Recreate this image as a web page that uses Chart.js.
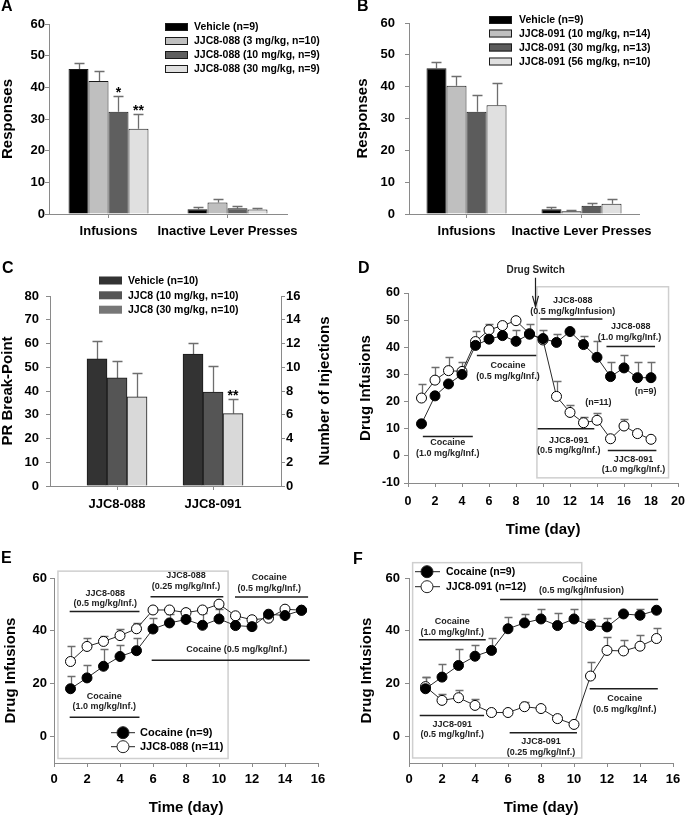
<!DOCTYPE html>
<html>
<head>
<meta charset="utf-8">
<title>JJC8-088 / JJC8-091 self-administration</title>
<script src="https://cdn.jsdelivr.net/npm/chart.js@4.4.1/dist/chart.umd.min.js"></script>
<style>
  html, body { margin: 0; padding: 0; background: #fff; }
  body { position: relative; width: 685px; height: 818px; overflow: hidden; font-family: "Liberation Sans", Arial, sans-serif; }
  .panel { position: absolute; }
  .letter { position: absolute; font-weight: bold; font-size: 16px; line-height: 16px; color: #000; }
</style>
</head>
<body>
<canvas class="panel" id="chartA" width="340" height="262" style="left:0;top:0"></canvas>
<canvas class="panel" id="chartB" width="345" height="262" style="left:340px;top:0"></canvas>
<canvas class="panel" id="chartC" width="340" height="280" style="left:0;top:265px"></canvas>
<canvas class="panel" id="chartD" width="345" height="280" style="left:340px;top:265px"></canvas>
<canvas class="panel" id="chartE" width="340" height="268" style="left:0;top:550px"></canvas>
<canvas class="panel" id="chartF" width="345" height="268" style="left:340px;top:550px"></canvas>
<div class="letter" style="left:1px;top:-2px">A</div>
<div class="letter" style="left:357px;top:-2px">B</div>
<div class="letter" style="left:2px;top:260px">C</div>
<div class="letter" style="left:358px;top:260px">D</div>
<div class="letter" style="left:1px;top:550px">E</div>
<div class="letter" style="left:353px;top:551px">F</div>
<script>
// ---------- data: panel A (JJC8-088 pretreatment, FR2) ----------
var catsA = ["Infusions", "Inactive Lever Presses"];
var vehA = [45.8, 1.5], vehAErr = [2.0, 0.8];
var a088dose3 = [42.0, 3.6], a088dose3Err = [3.1, 1.0];
var a088dose10 = [32.3, 1.8], a088dose10Err = [4.9, 0.8];
var a088dose30 = [26.9, 1.4], a088dose30Err = [4.8, 0.6];
var sigA10 = ["*", ""], sigA30 = ["**", ""];

// ---------- data: panel B (JJC8-091 pretreatment, FR2) ----------
var catsB = ["Infusions", "Inactive Lever Presses"];
var vehB = [45.8, 1.5], vehBErr = [2.1, 0.7];
var b091dose10 = [40.3, 0.9], b091dose10Err = [3.2, 0.5];
var b091dose30 = [32.1, 2.6], b091dose30Err = [5.3, 0.8];
var b091dose56 = [34.2, 3.2], b091dose56Err = [6.8, 1.4];

// ---------- data: panel C (PR break-point) ----------
var catsC = ["JJC8-088", "JJC8-091"];
var catPosC = [0, 1];
var vehC = [53.5, 55.5], vehCErr = [7.5, 4.7];
var c8dose10 = [45.5, 39.5], c8dose10Err = [7.0, 11.0];
var c8dose30 = [37.5, 30.5], c8dose30Err = [10.0, 6.0];
var sigC30 = ["", "**"];

// ---------- data: panel D (drug switch) ----------
var daysD = [1, 2, 3, 4, 5, 6, 7, 8, 9, 10, 11, 12, 13, 14, 15, 16, 17, 18];
var d088 = [11.8, 22.1, 26.5, 30.0, 40.7, 43.0, 44.3, 42.2, 44.8, 43.2, 41.8, 45.8, 41.0, 36.3, 29.2, 32.4, 28.8, 28.8];
var d088Err = [null, null, null, null, null, null, null, 4.3, null, null, 3.1, null, 3.1, 6.1, 5.5, 4.9, 5.6, 5.9];
var d091 = [21.3, 27.9, 31.4, 31.1, 42.1, 46.4, 48.0, 49.8, 45.0, 42.7, 21.9, 16.0, 12.2, 13.1, 6.3, 11.0, 8.2, 6.1];
var d091Err = [5.0, 4.8, 5.0, 3.5, 4.0, 2.0, null, null, 3.5, 3.8, 5.5, 2.8, 2.1, 2.8, null, 2.5, null, null];

// ---------- data: panel E (cocaine vs JJC8-088 substitution) ----------
var daysE = [1, 2, 3, 4, 5, 6, 7, 8, 9, 10, 11, 12, 13, 14, 15];
var cocE = [18.1, 22.2, 26.6, 30.3, 32.5, 40.7, 43.0, 44.3, 42.1, 44.5, 42.0, 41.6, 46.3, 45.8, 47.8];
var cocEErr = [4.7, 5.0, 6.6, 4.2, 4.8, 4.3, 3.4, 3.9, 4.8, 3.8, 2.5, 3.2, null, 2.4, null];
var e088 = [28.4, 34.1, 36.0, 38.2, 40.8, 47.9, 47.9, 46.9, 47.9, 50.1, 45.7, 44.2, 44.8, 48.2, 47.8];
var e088Err = [5.9, 3.1, 2.1, 2.4, 2.1, null, null, null, null, null, null, null, null, null, null];

// ---------- data: panel F (cocaine vs JJC8-091 substitution) ----------
var daysF = [1, 2, 3, 4, 5, 6, 7, 8, 9, 10, 11, 12, 13, 14, 15];
var cocF = [18.1, 22.5, 26.9, 30.4, 32.6, 40.8, 43.0, 44.5, 42.0, 44.5, 42.0, 41.5, 46.4, 45.9, 47.8];
var cocFErr = [4.6, 4.8, 6.4, 4.2, 4.8, 4.3, 3.4, 3.9, 4.8, 3.8, 2.5, 3.3, null, 2.4, null];
var f091 = [18.9, 13.7, 14.7, 11.8, 9.1, 9.1, 11.3, 10.6, 6.8, 4.6, 22.9, 32.6, 32.4, 34.2, 37.1];
var f091Err = [3.7, 2.3, 2.9, 2.3, null, null, 1.8, null, null, null, 5.3, 5.1, 4.3, 4.4, 4.0];

// ---------- annotations (data units: [x, y, text] and [x1, x2, y]) ----------
var boxD = [9.55, 19.3, -8.1, 62.3];
var notesD = [
  [9.45, 68.3, "Drug Switch"],
  [2.95, 4.8, "Cocaine"], [2.95, 0.7, "(1.0 mg/kg/Inf.)"],
  [7.4, 33.3, "Cocaine"], [7.4, 29.4, "(0.5 mg/kg/Inf.)"],
  [12.2, 57.2, "JJC8-088"], [12.2, 53.2, "(0.5 mg/kg/Infusion)"],
  [16.5, 47.7, "JJC8-088"], [16.4, 43.7, "(1.0 mg/kg/Inf.)"],
  [17.6, 23.7, "(n=9)"], [14.1, 19.6, "(n=11)"],
  [11.9, 5.8, "JJC8-091"], [11.9, 1.9, "(0.5 mg/kg/Inf.)"],
  [16.7, -1.2, "JJC8-091"], [16.7, -5.2, "(1.0 mg/kg/Inf.)"]
];
var linesD = [[1.1, 4.8, 7.1], [5.1, 9.5, 37.0], [9.8, 14.4, 50.4], [14.7, 18.3, 40.3], [9.6, 13.8, 10.0], [14.8, 18.4, 2.0]];
var arrowD = [9.4, 65.6, 54.9];

var boxE = [0.24, 10.55, -8.3, 62.6];
var notesE = [
  [3.1, 54.2, "JJC8-088"], [3.1, 50.5, "(0.5 mg/kg/Inf.)"],
  [8.0, 60.9, "JJC8-088"], [8.0, 56.7, "(0.25 mg/kg/Inf.)"],
  [13.05, 60.1, "Cocaine"], [13.05, 56.1, "(0.5 mg/kg/Inf.)"],
  [11.07, 32.8, "Cocaine (0.5 mg/kg/Inf.)"],
  [3.05, 15.2, "Cocaine"], [3.05, 11.4, "(1.0 mg/kg/Inf.)"]
];
var linesE = [[0.95, 5.18, 47.3], [5.85, 10.26, 52.9], [10.97, 15.4, 52.8], [5.92, 15.5, 28.9], [0.95, 5.18, 7.3]];

var boxF = [0.22, 10.47, -8.1, 65.8];
var notesF = [
  [10.35, 59.3, "Cocaine"], [10.45, 55.2, "(0.5 mg/kg/Infusion)"],
  [2.62, 43.5, "Cocaine"], [2.62, 39.3, "(1.0 mg/kg/Inf.)"],
  [2.62, 4.5, "JJC8-091"], [2.62, 0.7, "(0.5 mg/kg/Inf.)"],
  [8.0, -2.0, "JJC8-091"], [8.0, -6.2, "(0.25 mg/kg/Inf.)"],
  [13.07, 14.5, "Cocaine"], [13.07, 10.3, "(0.5 mg/kg/Inf.)"]
];
var linesF = [[5.52, 15.1, 51.9], [0.6, 4.65, 36.6], [0.65, 4.55, 8.0], [6.1, 10.18, 1.4], [10.95, 15.08, 18.1]];

// ---------- shared settings ----------
const FONT = '"Liberation Sans", Arial, Helvetica, sans-serif';
const AXIS_GRAY = "#8a8a8a";
const ERR_GRAY = "#6e6e6e";

Chart.defaults.font.family = FONT;
Chart.defaults.font.weight = "bold";
Chart.defaults.color = "#000";
Chart.defaults.animation = false;
Chart.defaults.plugins.legend.display = false;
Chart.defaults.plugins.tooltip.enabled = false;

// fixed axis box size so the plot area lands where the figure has it
const fixSize = (size) => (scale) => {
  if (scale.isHorizontal()) scale.height = size;
  else scale.width = size;
  scale.paddingLeft = scale.paddingRight = scale.paddingTop = scale.paddingBottom = 0;
};

const makeAxis = (o) => ({
  type: o.type || "linear",
  position: o.position,
  min: o.min,
  max: o.max,
  offset: !!o.offset,
  border: { color: AXIS_GRAY, width: 1 },
  grid: { drawOnChartArea: false, drawTicks: true, tickLength: 4, color: AXIS_GRAY, offset: false },
  ticks: {
    stepSize: o.step,
    padding: o.pad,
    autoSkip: false,
    maxRotation: 0,
    color: "#000",
    font: { size: o.fontSize || 12, weight: "bold" },
    callback: o.callback,
  },
  title: {
    display: !!o.title,
    text: o.title || "",
    color: "#000",
    font: { size: o.titleSize || 15, weight: "bold", lineHeight: 1 },
    padding: { top: o.titleTop || 0, bottom: o.titleBottom || 0 },
  },
  afterFit: fixSize(o.size),
  afterBuildTicks: o.tickValues
    ? (s) => { s.ticks = o.tickValues.map((v) => ({ value: v })); }
    : undefined,
});

const toXY = (xs, ys) => ys.map((y, i) => ({ x: xs[i], y: y }));

const yOf = (raw) => (raw !== null && typeof raw === "object" ? raw.y : raw);

// error bars (+SEM only), drawn under the marks
const errorBars = {
  id: "errorBars",
  beforeDatasetsDraw(chart) {
    const ctx = chart.ctx;
    const yScale = chart.scales.y;
    const cap = chart.config.type === "line" ? 8 : 10;
    chart.data.datasets.forEach((ds, i) => {
      if (!ds.errors) return;
      const meta = chart.getDatasetMeta(i);
      ctx.save();
      ctx.strokeStyle = ERR_GRAY;
      ctx.lineWidth = 1.3;
      meta.data.forEach((el, j) => {
        const err = ds.errors[j];
        if (err == null) return;
        const top = Math.round(yScale.getPixelForValue(yOf(ds.data[j]) + err)) + 0.5;
        const x = Math.round(el.x) + 0.5;
        ctx.beginPath();
        ctx.moveTo(x, el.y);
        ctx.lineTo(x, top);
        ctx.moveTo(x - cap / 2, top);
        ctx.lineTo(x + cap / 2, top);
        ctx.stroke();
      });
      ctx.restore();
    });
  },
};

const drawSig = (chart) => {
  const ctx = chart.ctx;
  const yScale = chart.scales.y;
  ctx.save();
  ctx.font = "bold 14px " + FONT;
  ctx.fillStyle = "#000";
  ctx.textAlign = "center";
  ctx.textBaseline = "alphabetic";
  chart.data.datasets.forEach((ds, i) => {
    if (!ds.sig) return;
    chart.getDatasetMeta(i).data.forEach((el, j) => {
      if (!ds.sig[j]) return;
      const top = yScale.getPixelForValue(yOf(ds.data[j]) + (ds.errors ? ds.errors[j] || 0 : 0));
      ctx.fillText(ds.sig[j], el.x, top + 1);
    });
  });
  ctx.restore();
};

const barLegend = (chart, boxX, textX, rowsY, fills) => {
  const ctx = chart.ctx;
  ctx.save();
  ctx.font = "bold 10.5px " + FONT;
  ctx.textBaseline = "middle";
  ctx.textAlign = "left";
  chart.data.datasets.forEach((ds, i) => {
    const y = rowsY[i];
    ctx.fillStyle = fills ? fills[i] : ds.backgroundColor;
    ctx.fillRect(boxX, y - 4, 23, 8);
    if (!fills) {
      ctx.strokeStyle = ds.borderColor;
      ctx.lineWidth = 1;
      ctx.strokeRect(boxX + 0.5, y - 3.5, 22, 7);
    }
    ctx.fillStyle = "#000";
    ctx.fillText(ds.label, textX, y + 0.5);
  });
  ctx.restore();
};

const lineLegend = (chart, x1, x2, mx, tx, rowsY, size) => {
  const ctx = chart.ctx;
  ctx.save();
  ctx.font = "bold " + size + "px " + FONT;
  ctx.textBaseline = "middle";
  chart.data.datasets.forEach((ds, i) => {
    const y = rowsY[i];
    ctx.strokeStyle = "#222";
    ctx.lineWidth = 1;
    ctx.beginPath();
    ctx.moveTo(x1, y);
    ctx.lineTo(x2, y);
    ctx.stroke();
    ctx.beginPath();
    ctx.arc(mx, y, 6, 0, Math.PI * 2);
    ctx.fillStyle = ds.pointBackgroundColor;
    ctx.fill();
    ctx.stroke();
    ctx.fillStyle = "#000";
    ctx.fillText(ds.label, tx, y + 0.5);
  });
  ctx.restore();
};

const drawBox = (chart, b) => {
  const { ctx, scales: { x, y } } = chart;
  const l = x.getPixelForValue(b[0]), r = x.getPixelForValue(b[1]);
  const bt = y.getPixelForValue(b[2]), tp = y.getPixelForValue(b[3]);
  ctx.save();
  ctx.strokeStyle = "#cfcfcf";
  ctx.lineWidth = 1.5;
  ctx.strokeRect(l, tp, r - l, bt - tp);
  ctx.restore();
};

const drawNotes = (chart, notes, lines, size) => {
  const { ctx, scales: { x, y } } = chart;
  ctx.save();
  ctx.strokeStyle = "#1e1e1e";
  ctx.lineWidth = 1.5;
  lines.forEach((l) => {
    const py = y.getPixelForValue(l[2]);
    ctx.beginPath();
    ctx.moveTo(x.getPixelForValue(l[0]), py);
    ctx.lineTo(x.getPixelForValue(l[1]), py);
    ctx.stroke();
  });
  ctx.fillStyle = "#1e1e1e";
  ctx.textAlign = "center";
  ctx.textBaseline = "middle";
  notes.forEach((n) => {
    ctx.font = "bold " + (n[2] === "Drug Switch" ? 10 : size) + "px " + FONT;
    ctx.fillText(n[2], x.getPixelForValue(n[0]), y.getPixelForValue(n[1]));
  });
  ctx.restore();
};

const barDataset = (label, data, errors, fill, sig) => ({
  label: label,
  data: data,
  errors: errors,
  sig: sig,
  backgroundColor: fill,
  borderColor: "#1a1a1a",
  borderWidth: 1,
});

const lineDataset = (label, xs, ys, errors, fill) => ({
  label: label,
  data: toXY(xs, ys),
  errors: errors,
  borderColor: "#2a2a2a",
  borderWidth: 1,
  pointRadius: 5,
  pointBackgroundColor: fill,
  pointBorderColor: "#000",
  pointBorderWidth: 1,
  tension: 0,
  fill: false,
});

// ---------- panel A ----------
new Chart(document.getElementById("chartA"), {
  type: "bar",
  data: {
    labels: catsA,
    datasets: [
      barDataset("Vehicle (n=9)", vehA, vehAErr, "#000000"),
      barDataset("JJC8-088 (3 mg/kg, n=10)", a088dose3, a088dose3Err, "#bfbfbf"),
      barDataset("JJC8-088 (10 mg/kg, n=9)", a088dose10, a088dose10Err, "#5f5f5f", sigA10),
      barDataset("JJC8-088 (30 mg/kg, n=9)", a088dose30, a088dose30Err, "#e0e0e0", sigA30),
    ],
  },
  options: {
    responsive: false,
    layout: { padding: { left: 0, top: 24, right: 53, bottom: 0 } },
    datasets: { bar: { categoryPercentage: 0.672, barPercentage: 1 } },
    scales: {
      x: makeAxis({ type: "category", offset: true, size: 48, pad: 6, fontSize: 13, callback: (v) => catsA[v] }),
      y: makeAxis({ min: 0, max: 60, step: 10, size: 49, pad: 0, fontSize: 13, title: "Responses" }),
    },
  },
  plugins: [errorBars, {
    id: "extrasA",
    afterDraw(chart) {
      drawSig(chart);
      barLegend(chart, 165, 194, [27, 41, 55, 69]);
    },
  }],
});

// ---------- panel B ----------
new Chart(document.getElementById("chartB"), {
  type: "bar",
  data: {
    labels: catsB,
    datasets: [
      barDataset("Vehicle (n=9)", vehB, vehBErr, "#000000"),
      barDataset("JJC8-091 (10 mg/kg, n=14)", b091dose10, b091dose10Err, "#bfbfbf"),
      barDataset("JJC8-091 (30 mg/kg, n=13)", b091dose30, b091dose30Err, "#5c5c5c"),
      barDataset("JJC8-091 (56 mg/kg, n=10)", b091dose56, b091dose56Err, "#e0e0e0"),
    ],
  },
  options: {
    responsive: false,
    layout: { padding: { left: 0, top: 23, right: 46, bottom: 0 } },
    datasets: { bar: { categoryPercentage: 0.696, barPercentage: 1 } },
    scales: {
      x: makeAxis({ type: "category", offset: true, size: 48, pad: 6, fontSize: 13, callback: (v) => catsB[v] }),
      y: makeAxis({ min: 0, max: 60, step: 10, size: 69, pad: 10, fontSize: 13, title: "Responses", titleTop: 15.5 }),
    },
  },
  plugins: [errorBars, {
    id: "extrasB",
    afterDraw(chart) {
      barLegend(chart, 149, 179, [20, 33.5, 47.5, 61.5]);
    },
  }],
});

// ---------- panel C ----------
new Chart(document.getElementById("chartC"), {
  type: "bar",
  data: {
    datasets: [
      barDataset("Vehicle (n=10)", toXY(catPosC, vehC), vehCErr, "#333333"),
      barDataset("JJC8 (10 mg/kg, n=10)", toXY(catPosC, c8dose10), c8dose10Err, "#555555"),
      barDataset("JJC8 (30 mg/kg, n=10)", toXY(catPosC, c8dose30), c8dose30Err, "#d9d9d9", sigC30),
    ],
  },
  options: {
    responsive: false,
    layout: { padding: { left: 0, top: 31, right: 0, bottom: 0 } },
    datasets: { bar: { barThickness: 20 } },
    scales: {
      x: makeAxis({
        min: -0.698, max: 1.708, size: 59, pad: 7, fontSize: 13,
        tickValues: catPosC,
        callback: (v) => catsC[v] || "",
      }),
      y: makeAxis({ min: 0, max: 80, step: 10, size: 50, pad: 7, fontSize: 13, title: "PR Break-Point" }),
      y1: makeAxis({ position: "right", min: 0, max: 16, step: 2, size: 59, pad: 1, fontSize: 13 }),
    },
  },
  plugins: [errorBars, {
    id: "extrasC",
    afterDraw(chart) {
      const ctx = chart.ctx;
      const a = chart.chartArea;
      drawSig(chart);
      barLegend(chart, 99, 128, [15.5, 30.3, 44.7], ["#333333", "#555555", "#777777"]);
      ctx.save();
      ctx.translate(325, (a.top + a.bottom) / 2);
      ctx.rotate(-Math.PI / 2);
      ctx.font = "bold 15px " + FONT;
      ctx.fillStyle = "#000";
      ctx.textAlign = "center";
      ctx.textBaseline = "middle";
      ctx.fillText("Number of Injections", 0, 0);
      ctx.restore();
    },
  }],
});

// ---------- panel D ----------
new Chart(document.getElementById("chartD"), {
  type: "line",
  data: {
    datasets: [
      lineDataset("JJC8-088 (n=9)", daysD, d088, d088Err, "#000000"),
      lineDataset("JJC8-091 (n=11)", daysD, d091, d091Err, "#ffffff"),
    ],
  },
  options: {
    responsive: false,
    layout: { padding: { left: 0, top: 28, right: 7, bottom: 0 } },
    scales: {
      x: makeAxis({ min: 0, max: 20, step: 2, size: 62, pad: 7, fontSize: 12.5, title: "Time (day)", titleBottom: 7.5 }),
      y: makeAxis({ min: -10, max: 60, step: 10, size: 68, pad: 4, fontSize: 12.5, title: "Drug Infusions", titleTop: 18.5 }),
    },
  },
  plugins: [{
    id: "boxD",
    beforeDatasetsDraw(chart) { drawBox(chart, boxD); },
  }, errorBars, {
    id: "extrasD",
    afterDraw(chart) {
      const { ctx, scales: { x, y } } = chart;
      drawNotes(chart, notesD, linesD, 9);
      const ax = Math.round(x.getPixelForValue(arrowD[0])) + 0.5;
      const top = y.getPixelForValue(arrowD[1]);
      const tip = y.getPixelForValue(arrowD[2]);
      ctx.save();
      ctx.strokeStyle = "#1e1e1e";
      ctx.lineWidth = 1.2;
      ctx.beginPath();
      ctx.moveTo(ax, top);
      ctx.lineTo(ax, tip);
      ctx.moveTo(ax - 3, tip - 11);
      ctx.lineTo(ax, tip);
      ctx.lineTo(ax + 3, tip - 11);
      ctx.stroke();
      ctx.restore();
    },
  }],
});

// ---------- panel E ----------
new Chart(document.getElementById("chartE"), {
  type: "line",
  data: {
    datasets: [
      lineDataset("Cocaine (n=9)", daysE, cocE, cocEErr, "#000000"),
      lineDataset("JJC8-088 (n=11)", daysE, e088, e088Err, "#ffffff"),
    ],
  },
  options: {
    responsive: false,
    layout: { padding: { left: 0, top: 28, right: 22, bottom: 0 } },
    scales: {
      x: makeAxis({ min: 0, max: 16, step: 2, size: 55, pad: 5, fontSize: 13, title: "Time (day)", titleBottom: 2.5 }),
      y: makeAxis({ min: -10, max: 60, size: 54, pad: 3, fontSize: 13, tickValues: [0, 20, 40, 60], title: "Drug Infusions", titleTop: 3.5 }),
    },
  },
  plugins: [{
    id: "boxE",
    beforeDatasetsDraw(chart) { drawBox(chart, boxE); },
  }, errorBars, {
    id: "extrasE",
    afterDraw(chart) {
      drawNotes(chart, notesE, linesE, 9);
      lineLegend(chart, 111, 135, 123, 140, [182.7, 196.7], 11);
    },
  }],
});

// ---------- panel F ----------
new Chart(document.getElementById("chartF"), {
  type: "line",
  data: {
    datasets: [
      lineDataset("Cocaine (n=9)", daysF, cocF, cocFErr, "#000000"),
      lineDataset("JJC8-091 (n=12)", daysF, f091, f091Err, "#ffffff"),
    ],
  },
  options: {
    responsive: false,
    layout: { padding: { left: 0, top: 28, right: 12, bottom: 0 } },
    scales: {
      x: makeAxis({ min: 0, max: 16, step: 2, size: 55, pad: 5, fontSize: 13, title: "Time (day)", titleBottom: 2.5 }),
      y: makeAxis({ min: -10, max: 60, size: 69, pad: 5, fontSize: 13, tickValues: [0, 20, 40, 60], title: "Drug Infusions", titleTop: 19.5 }),
    },
  },
  plugins: [{
    id: "boxF",
    beforeDatasetsDraw(chart) { drawBox(chart, boxF); },
  }, errorBars, {
    id: "extrasF",
    afterDraw(chart) {
      drawNotes(chart, notesF, linesF, 9);
      lineLegend(chart, 75, 100, 87, 106, [21.7, 36.7], 10.5);
    },
  }],
});
</script>
</body>
</html>
